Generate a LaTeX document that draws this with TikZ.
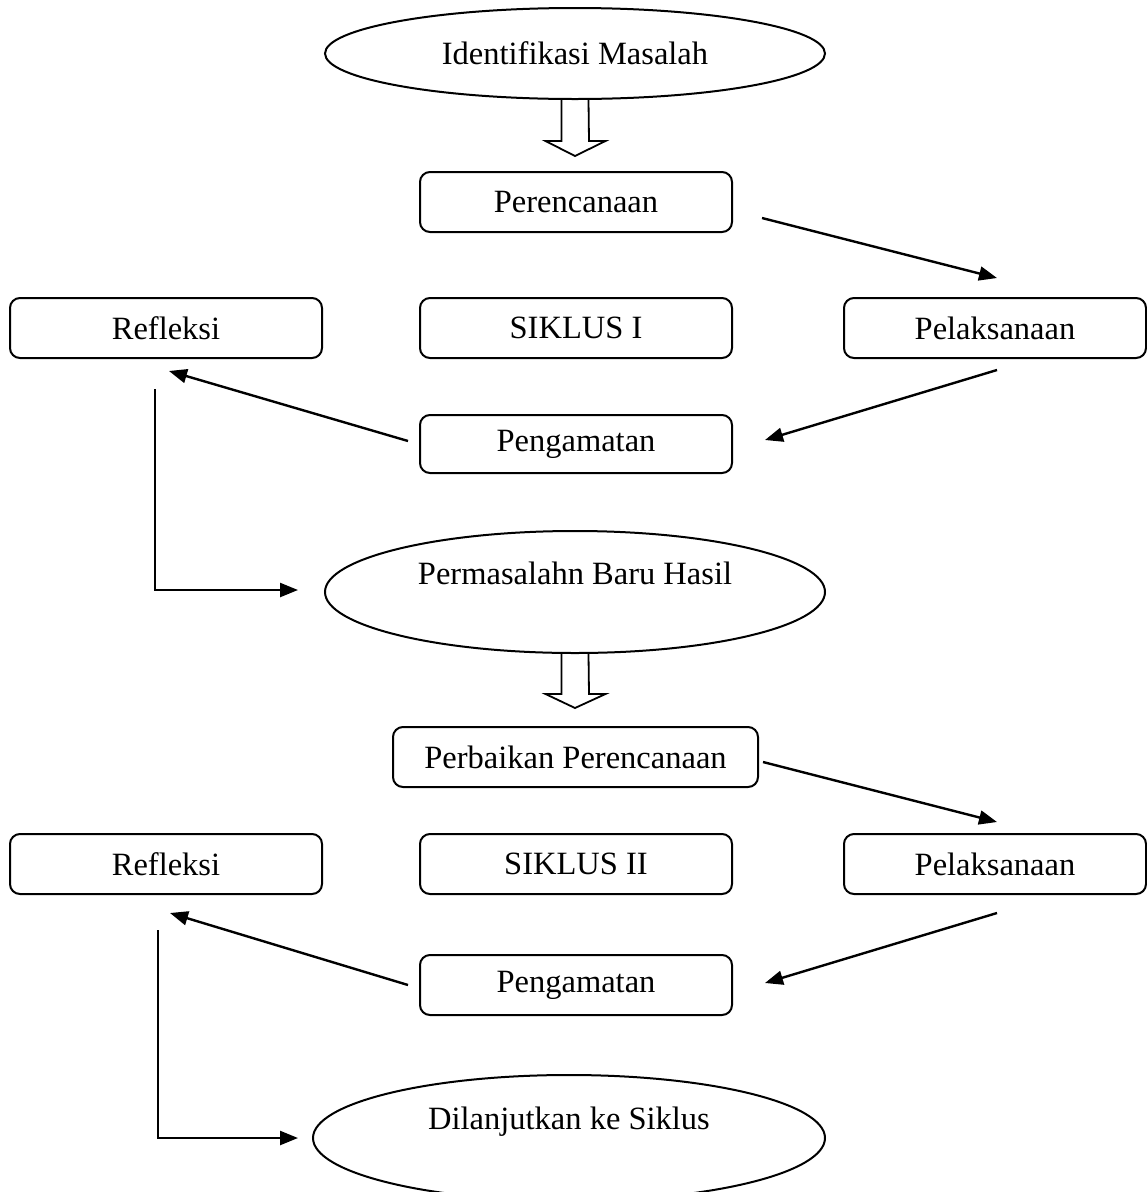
\documentclass[tikz,border=0pt]{standalone}
\usepackage{fontspec}
\setmainfont{Liberation Serif}
\usetikzlibrary{shapes.geometric,arrows.meta}
\begin{document}
\begin{tikzpicture}[x=1pt,y=-1pt,
  every node/.style={font=\fontsize{32.5}{37}\selectfont},
  rbox/.style={draw,line width=2pt,rounded corners=10pt,minimum height=60pt,minimum width=312pt,inner sep=0pt},
  oval/.style={draw,ellipse,line width=2pt,inner sep=0pt},
  conn/.style={line width=2.4pt,-{Triangle[length=18pt,width=14pt]}},
  hollow/.style={line width=1.8pt,line join=miter}]
\useasboundingbox (0,0) rectangle (1147,1192);
% --- top part
\node[oval,minimum width=500pt,minimum height=91pt] (e1) at (575,53.5) {Identifikasi Masalah};
\node[rbox] (p1) at (576,202) {Perencanaan};
\node[rbox] (r1) at (166,328) {Refleksi};
\node[rbox] (s1) at (576,328) {SIKLUS I};
\node[rbox,minimum width=302pt] (l1) at (995,328) {Pelaksanaan};
\node[rbox,minimum height=58pt] (g1) at (576,444) {Pengamatan};
\node[oval,minimum width=500pt,minimum height=122pt,label={[yshift=19pt]center:Permasalahn Baru Hasil}] (e2) at (575,592) {};
% hollow arrow 1
\draw[hollow] ([xshift=-13.5pt]e1.south) -- ++(0,41) -- ++(-16,0) -- ([yshift=-56pt]e1.south) -- ++(30.5,-15) -- ++(-16.5,0) -- ([xshift=13.5pt]e1.south);
% connectors 1
\coordinate (a1s) at (762,218); \coordinate (a1e) at (997,278);
\coordinate (a2s) at (997,370); \coordinate (a2e) at (765,440);
\coordinate (a3s) at (408,441); \coordinate (a3e) at (169,371);
\coordinate (a4s) at (155,389); \coordinate (a4c) at (155,590); \coordinate (a4e) at (298,590);
\draw[conn] (a1s) -- (a1e);
\draw[conn] (a2s) -- (a2e);
\draw[conn] (a3s) -- (a3e);
\draw[conn] (a4s) -- (a4c) -- (a4e);
% --- bottom part
\node[rbox,minimum width=365pt] (p2) at (575.5,757) {Perbaikan Perencanaan};
\node[rbox] (r2) at (166,864) {Refleksi};
\node[rbox] (s2) at (576,864) {SIKLUS II};
\node[rbox,minimum width=302pt] (l2) at (995,864) {Pelaksanaan};
\node[rbox] (g2) at (576,985) {Pengamatan};
\node[oval,minimum width=512pt,minimum height=126pt,label={[yshift=16pt]center:Dilanjutkan ke Siklus}] (e3) at (569,1138) {};
% hollow arrow 2
\draw[hollow] ([xshift=-13.5pt]e2.south) -- ++(0,40) -- ++(-16,0) -- ([yshift=-54pt]e2.south) -- ++(30.5,-14) -- ++(-16.5,0) -- ([xshift=13.5pt]e2.south);
% connectors 2
\coordinate (b1s) at (763,762); \coordinate (b1e) at (997,822);
\coordinate (b2s) at (997,913); \coordinate (b2e) at (765,983);
\coordinate (b3s) at (408,985); \coordinate (b3e) at (170,913);
\coordinate (b4s) at (158,930); \coordinate (b4c) at (158,1138); \coordinate (b4e) at (298,1138);
\draw[conn] (b1s) -- (b1e);
\draw[conn] (b2s) -- (b2e);
\draw[conn] (b3s) -- (b3e);
\draw[conn] (b4s) -- (b4c) -- (b4e);
\end{tikzpicture}
\end{document}
